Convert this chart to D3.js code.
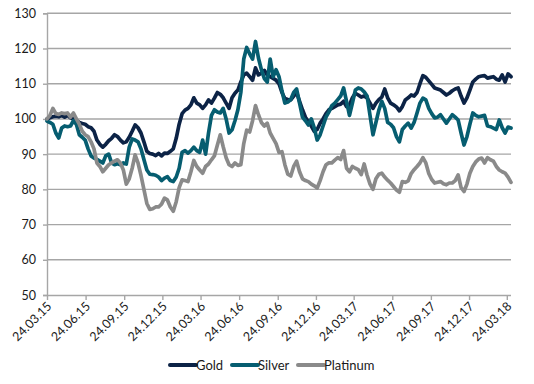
<!DOCTYPE html>
<html>
<head>
<meta charset="utf-8">
<script src="https://cdn.jsdelivr.net/npm/d3@7"></script>
<style>
  html, body { margin: 0; padding: 0; background: #fff; }
  svg { display: block; font-family: Lato, "Open Sans", sans-serif; }
</style>
</head>
<body>
<svg id="chart" width="534" height="384"></svg>
<script>
// Weekly observations starting 24.03.2015 (index 100 = start)
const startDate = "2015-03-24";
const endDate = "2018-04-03";

const gold = [
  100,100.3,100.6,100.8,100.6,101,100.5,101,100.3,100,99.5,99,98.7,98.5,97.8,97.5,96.5,94,92.8,92,
  92.8,93.8,94.5,95.5,95,94,93.2,93.5,94.8,96.5,98.3,97.5,96,93.5,90.8,90.2,90,89.6,90.2,89.5,
  90.3,90.2,90.8,91.5,94.5,98.5,101.5,102.5,103,104,106,104.5,104,103,104,105.4,104.5,105.9,107.5,107,
  106,104.5,103,106,107.3,108.2,110.5,112.5,113,112,111,114.5,112.5,113,113.8,112.5,112,111.5,111,110,
  107.5,105.8,105.5,105.4,106.5,107.5,105,102.6,100.5,99.2,98,96.5,97,98.8,100,101.5,102.6,103,103.5,104,
  104.2,105,103.5,104,106,107.3,106.8,106.2,106.5,106,104.5,103,104.5,105.5,106.2,108.5,106,104.5,104,103.4,
  102.3,103.5,105.4,106,106.8,106.5,107.5,110,112.3,111.8,110.8,109.8,108.8,108.5,108.2,107.5,106.8,107.3,108,108.5,
  108.8,106.5,104.5,106,108.2,110.5,111.3,112,112.2,112.3,111.6,111.8,112,111.3,111,112.5,110.5,112.8,112
];

const silver = [
  99.4,99,98.5,96,94.6,97.4,98,97.8,98,99.5,98.5,95.5,94.8,94,91.5,89.5,88.9,88.5,88,87.5,
  89.5,90,87.5,87,87.3,87,87.5,87.2,92,94.3,94,93.5,91.5,88.5,85.5,84.3,84.2,84,83.5,82.5,
  83.2,83.6,82.5,82.2,83.5,86,90.5,91,90.3,91,92,91,90.5,94,90,96,101,102.6,102,101.7,
  103,100,96,96.9,99.5,102.6,107.5,117,120.3,118.5,117,122,117.3,114,111.5,110.5,117,112,114,112,
  108,104.5,104.8,105.5,107.5,108.5,104.5,100.5,99.5,98.3,100,97.5,94,95.5,98,100.5,102,103.8,104.5,105.5,
  106.5,108.8,105,101,104.5,108.2,108.8,108.5,107.7,106.5,101,95.5,99,102.5,105,103,99,98.5,97.5,95,
  93.5,97,98,98.8,97.4,99,101.7,104.5,105.9,105.4,103,101.5,100.3,100.5,101.2,100,98.8,100,101.2,100.5,
  99.7,96,92.6,95,98.5,101.7,101,100.6,100.8,101,98,97.8,97.4,97,99.7,97.5,96,97.7,97.4
];

const platinum = [
  100,101,103,101.5,101.3,101.7,101.5,101.7,100.5,101.7,100,98.5,96.5,95.5,95,93.5,91.5,87.5,86.5,85,
  86,87,87.5,88,88.4,87.5,85.5,81.5,83,86,89.8,87.5,84,80,76,74.3,74.5,75,75,75.8,
  77.5,77,75,73.8,76.5,80.5,82.7,82.5,82.2,85,88.2,86.5,85.5,84.6,86.5,87.2,88.4,89.5,92.5,95.5,
  92.1,89,87,86.5,87.5,86.8,87,93,96.8,96.3,99.5,103.8,101.2,99,98,98.8,96,94.5,93,90.5,
  90.7,87,84.3,83.8,86.5,88,85,83,82.5,82.2,81.5,81,80.4,82.5,85,87,87.5,87.5,88.3,89,
  88.5,91,86,85,86.5,86,85.6,84.2,87.2,84,81.5,80,83,84.3,84.6,83.5,82.6,81.8,80.8,79.8,
  79.2,82.2,82,82.4,84.5,85.6,86.5,87.5,89,87.5,84.5,82.8,81.8,82,82.2,81.6,81.3,81.8,81.8,82.5,
  84.1,80.5,79.4,81.5,84.6,86.5,87.8,88.6,88.9,87.5,89,88.4,88,86.5,85.5,85,84.6,83.5,82
];

const seriesNames = ["Gold", "Silver", "Platinum"];
const seriesColors = ["#0c2346", "#065d70", "#8a8a8a"];
const yTicks = [50, 60, 70, 80, 90, 100, 110, 120, 130];
const xTickLabels = ["24.03.15","24.06.15","24.09.15","24.12.15","24.03.16","24.06.16","24.09.16",
  "24.12.16","24.03.17","24.06.17","24.09.17","24.12.17","24.03.18"];

(function () {
const parseDMY = d3.timeParse("%d.%m.%y");
const parseISO = d3.timeParse("%Y-%m-%d");
const fmt = d3.timeFormat("%d.%m.%y");
const start = parseISO(startDate);
const dates = gold.map((_, i) => d3.timeDay.offset(start, 7 * i));
const allSeries = [gold, silver, platinum];

const svg = d3.select("#chart");
const mLeft = 47, mRight = 511, mTop = 13.3, mBottom = 295;

const x = d3.scaleTime().domain([start, parseISO(endDate)]).range([mLeft, mRight]);
const y = d3.scaleLinear().domain([50, 130]).range([mBottom, mTop]);

const gridColor = "#a6a6a6";

// horizontal grid
svg.append("g").selectAll("line").data(yTicks.filter(t => t > 50)).join("line")
  .attr("x1", mLeft).attr("x2", mRight)
  .attr("y1", d => y(d)).attr("y2", d => y(d))
  .attr("stroke", gridColor).attr("stroke-width", 1.4);

// y axis
const yAxis = svg.append("g").attr("transform", `translate(${mLeft},0)`)
  .call(d3.axisLeft(y).tickValues(yTicks).tickSize(4).tickPadding(7).tickFormat(d3.format("d")));
yAxis.select(".domain").attr("stroke", gridColor).attr("stroke-width", 1.4);
yAxis.selectAll(".tick line").attr("stroke", gridColor).attr("stroke-width", 1.4);
yAxis.selectAll("text").attr("font-size", 12.5).attr("fill", "#1a1a1a")
  .attr("font-family", "Lato, sans-serif");

// x axis
const xAxis = svg.append("g").attr("transform", `translate(0,${mBottom})`)
  .call(d3.axisBottom(x).tickValues(xTickLabels.map(parseDMY)).tickSize(5).tickFormat(fmt));
xAxis.select(".domain").attr("stroke", gridColor).attr("stroke-width", 1.4)
  .attr("d", `M${mLeft},0.5H${mRight}`);
xAxis.selectAll(".tick line").attr("stroke", gridColor).attr("stroke-width", 1.4);
xAxis.selectAll("text")
  .attr("font-size", 12.5).attr("fill", "#1a1a1a").attr("font-family", "Lato, sans-serif")
  .attr("text-anchor", "end").attr("dy", null).attr("y", 0)
  .attr("transform", "translate(5,12) rotate(-45)");

// lines
const line = d3.line().x((d, i) => x(dates[i])).y(d => y(d)).curve(d3.curveLinear);
svg.append("g").selectAll("path").data(allSeries).join("path")
  .attr("d", d => line(d))
  .attr("fill", "none")
  .attr("stroke", (d, i) => seriesColors[i])
  .attr("stroke-width", 3.7)
  .attr("stroke-linejoin", "round")
  .attr("stroke-linecap", "round");

// legend
const legendX = [170, 232, 298];
const legendY = 365;
const lg = svg.append("g").selectAll("g").data(seriesNames).join("g")
  .attr("transform", (d, i) => `translate(${legendX[i]},${legendY})`);
lg.append("line").attr("x1", 0).attr("x2", 26).attr("y1", 0).attr("y2", 0)
  .attr("stroke", (d, i) => seriesColors[i]).attr("stroke-width", 4).attr("stroke-linecap", "round");
lg.append("text").attr("x", 26).attr("y", 4.5).text(d => d)
  .attr("font-size", 13).attr("fill", "#1a1a1a").attr("font-family", "Lato, sans-serif");
})();
</script>
</body>
</html>
